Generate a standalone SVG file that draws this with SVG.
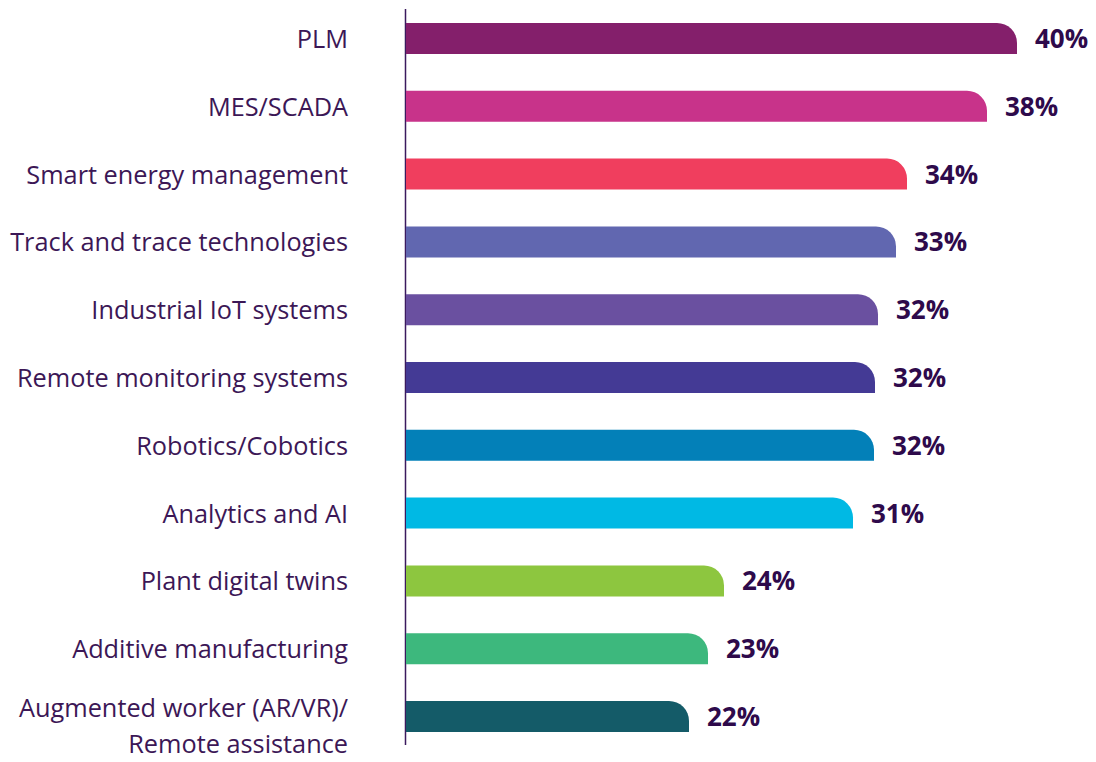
<svg xmlns="http://www.w3.org/2000/svg" width="1096" height="762" viewBox="0 0 1096 762">
<style>
.lbl{font-family:"Open Sans","Liberation Sans",sans-serif;font-size:25.3px;fill:#3c1756;text-anchor:end}
.val{font-family:"Open Sans","Liberation Sans",sans-serif;font-size:26px;font-weight:bold;fill:#2e0a4b}
</style>
<rect width="1096" height="762" fill="#ffffff"/>
<g id="axis"><line x1="405.5" y1="9" x2="405.5" y2="745" stroke="#3b1a5e" stroke-width="1.5"/></g>
<g id="bar-plm"><path d="M406,23 H997 A20,20 0 0 1 1017,43 V54 H406 Z" fill="#841f6b"/><text class="lbl" x="348" y="48">PLM</text><text class="val" x="1035" y="48">40%</text></g>
<g id="bar-mes"><path d="M406,90.8 H967 A20,20 0 0 1 987,110.8 V121.8 H406 Z" fill="#c8338a"/><text class="lbl" x="348" y="115.8">MES/SCADA</text><text class="val" x="1005" y="115.8">38%</text></g>
<g id="bar-energy"><path d="M406,158.6 H887 A20,20 0 0 1 907,178.6 V189.6 H406 Z" fill="#f03e5e"/><text class="lbl" x="348" y="183.6">Smart energy management</text><text class="val" x="925" y="183.6">34%</text></g>
<g id="bar-track"><path d="M406,226.4 H876 A20,20 0 0 1 896,246.4 V257.4 H406 Z" fill="#6167b0"/><text class="lbl" x="348" y="251.4">Track and trace technologies</text><text class="val" x="914" y="251.4">33%</text></g>
<g id="bar-iot"><path d="M406,294.2 H858 A20,20 0 0 1 878,314.2 V325.2 H406 Z" fill="#6a50a0"/><text class="lbl" x="348" y="319.2">Industrial IoT systems</text><text class="val" x="896" y="319.2">32%</text></g>
<g id="bar-remote"><path d="M406,362 H855 A20,20 0 0 1 875,382 V393 H406 Z" fill="#443a95"/><text class="lbl" x="348" y="387">Remote monitoring systems</text><text class="val" x="893" y="387">32%</text></g>
<g id="bar-robotics"><path d="M406,429.8 H854 A20,20 0 0 1 874,449.8 V460.8 H406 Z" fill="#0380b8"/><text class="lbl" x="348" y="454.8">Robotics/Cobotics</text><text class="val" x="892" y="454.8">32%</text></g>
<g id="bar-analytics"><path d="M406,497.6 H833 A20,20 0 0 1 853,517.6 V528.6 H406 Z" fill="#00b9e4"/><text class="lbl" x="348" y="522.6">Analytics and AI</text><text class="val" x="871" y="522.6">31%</text></g>
<g id="bar-twins"><path d="M406,565.4 H704 A20,20 0 0 1 724,585.4 V596.4 H406 Z" fill="#8dc63f"/><text class="lbl" x="348" y="590.4">Plant digital twins</text><text class="val" x="742" y="590.4">24%</text></g>
<g id="bar-additive"><path d="M406,633.2 H688 A20,20 0 0 1 708,653.2 V664.2 H406 Z" fill="#3db87d"/><text class="lbl" x="348" y="658.2">Additive manufacturing</text><text class="val" x="726" y="658.2">23%</text></g>
<g id="bar-augmented"><path d="M406,701 H669 A20,20 0 0 1 689,721 V732 H406 Z" fill="#145b68"/><text class="lbl" x="348" y="717">Augmented worker (AR/VR)/</text><text class="lbl" x="348" y="753">Remote assistance</text><text class="val" x="707" y="726">22%</text></g>
</svg>
